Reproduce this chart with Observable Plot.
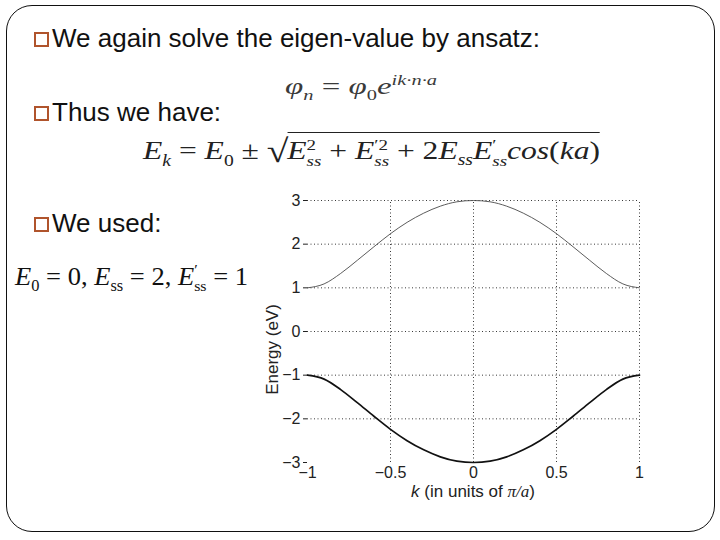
<!DOCTYPE html>
<html>
<head>
<meta charset="utf-8">
<script src="https://cdn.jsdelivr.net/npm/d3@7"></script>
<script src="https://cdn.jsdelivr.net/npm/@observablehq/plot@0.6"></script>
<style>
  html, body { margin: 0; padding: 0; background: #fff; }
  #slide { position: relative; width: 720px; height: 540px; overflow: hidden; font-family: "Liberation Sans", Arial, sans-serif; }
  #frame { position: absolute; left: 6px; top: 5px; width: 709px; height: 527px; border: 1.3px solid #111; border-radius: 26px; box-sizing: border-box; }
  .sq { position: absolute; width: 15px; height: 15px; border: 2px solid #b0542c; box-sizing: border-box; }
  .bullet { position: absolute; font-size: 26px; color: #111; white-space: nowrap; line-height: 1; }
  .math { position: absolute; font-family: "Liberation Serif", "DejaVu Serif", serif; font-style: italic; color: #222; white-space: nowrap; line-height: 1; transform-origin: left top; }
  .math .up { font-style: normal; }
  .math sub, .math sup { font-size: 62%; line-height: 0; }
  .stk { display: inline-block; vertical-align: -0.42em; font-size: 0.6em; line-height: 1.05; text-align: left; }
  .stk > span { display: block; }
  .rad { border-top: 1.3px solid #222; padding-top: 3px; }
  .root { font-style: normal; font-size: 1.25em; vertical-align: -0.08em; margin-right: -1px; }
  #chart { position: absolute; left: 255px; top: 185px; }
  #xlabel { position: absolute; left: 473px; top: 483px; transform: translateX(-50%); font-size: 17px; color: #222; white-space: nowrap; line-height: 1; font-family: "Liberation Sans", Arial, sans-serif; }
</style>
</head>
<body>
<div id="slide">
  <div id="frame"></div>
  <div class="sq" style="left:34px; top:32px;"></div>
  <div class="bullet" style="left:52px; top:25px;">We again solve the eigen-value by ansatz:</div>
  <div id="f1" class="math" style="left:285px; top:74px; font-size:24px; color:#3a3a3a;">&phi;<sub>n</sub> <span class="up">=</span> &phi;<sub class="up">0</sub>e<sup>ik&middot;n&middot;a</sup></div>
  <div class="sq" style="left:34px; top:106px;"></div>
  <div class="bullet" style="left:52px; top:99px;">Thus we have:</div>
  <div id="f2" class="math" style="left:143px; top:135px; font-size:26px;">E<sub>k</sub> <span class="up">=</span> E<sub class="up">0</sub> <span class="up">&plusmn;</span> <span class="root">&radic;</span><span class="rad">E<span class="stk"><span class="up">2</span><span>ss</span></span> <span class="up">+</span> E<span class="stk"><span class="up">&prime;2</span><span>ss</span></span> <span class="up">+ 2</span>E<sub>ss</sub>E<span class="stk"><span class="up">&prime;</span><span>ss</span></span>cos<span class="up">(</span>ka<span class="up">)</span></span></div>
  <div class="sq" style="left:34px; top:217px;"></div>
  <div class="bullet" style="left:52px; top:210px;">We used:</div>
  <div id="f3" class="math" style="left:15px; top:262px; font-size:26px; color:#111;">E<sub class="up">0</sub> <span class="up">= 0,</span> E<sub class="up">ss</sub> <span class="up">= 2,</span> E<span class="stk up"><span>&prime;</span><span>ss</span></span> <span class="up">= 1</span></div>
  <div id="chart"></div>
  <div id="xlabel"><i>k</i> (in units of <i style="font-family:'Liberation Serif',serif;">&pi;/a</i>)</div>
</div>
<script>
// k in units of pi/a
const kValues = [-1, -0.9, -0.8, -0.7, -0.6, -0.5, -0.4, -0.3, -0.2, -0.1, 0, 0.1, 0.2, 0.3, 0.4, 0.5, 0.6, 0.7, 0.8, 0.9, 1];
// upper band energy (eV)
const upperBand = [1.0, 1.09, 1.33, 1.63, 1.94, 2.24, 2.50, 2.71, 2.87, 2.97, 3.0, 2.97, 2.87, 2.71, 2.50, 2.24, 1.94, 1.63, 1.33, 1.09, 1.0];
// lower band energy (eV)
const lowerBand = [-1.0, -1.09, -1.33, -1.63, -1.94, -2.24, -2.50, -2.71, -2.87, -2.97, -3.0, -2.97, -2.87, -2.71, -2.50, -2.24, -1.94, -1.63, -1.33, -1.09, -1.0];
const xTicks = [-1, -0.5, 0, 0.5, 1];
const yTicks = [-3, -2, -1, 0, 1, 2, 3];
const xGrid = [-0.5, 0, 0.5, 1];
const yGrid = [-2, -1, 0, 1, 2, 3];
const yLabel = ["Energy (eV)"];

const upper = kValues.map((k, i) => ({k, E: upperBand[i]}));
const lower = kValues.map((k, i) => ({k, E: lowerBand[i]}));
const fmt = d => (d < 0 ? "\u2212" + Math.abs(d) : String(d));

const chart = Plot.plot({
  width: 400,
  height: 320,
  marginLeft: 52,
  marginRight: 16,
  marginTop: 15,
  marginBottom: 43,
  style: {fontFamily: "'Liberation Sans', Arial, sans-serif", fontSize: "16px", color: "#222", background: "transparent", overflow: "visible"},
  x: {domain: [-1, 1]},
  y: {domain: [-3, 3]},
  marks: [
    Plot.ruleY(yGrid, {x1: -1, x2: 1, stroke: "#222", strokeWidth: 0.9, strokeDasharray: "1,2.5"}),
    Plot.ruleX(xGrid, {y1: -3, y2: 3, stroke: "#222", strokeWidth: 0.9, strokeDasharray: "1,2.5"}),
    Plot.line(upper, {x: "k", y: "E", stroke: "#4a4a4a", strokeWidth: 0.9, curve: "monotone-x"}),
    Plot.line(lower, {x: "k", y: "E", stroke: "#111", strokeWidth: 1.7, curve: "monotone-x"}),
    Plot.axisY({ticks: yTicks, tickSize: 4, tickPadding: 3, tickFormat: fmt, label: null, fontSize: 16}),
    Plot.axisX({ticks: xTicks, tickSize: 0, tickPadding: 4, tickFormat: fmt, label: null, fontSize: 16}),
    Plot.text(yLabel, {text: d => d, frameAnchor: "left", textAnchor: "middle", lineAnchor: "middle", dx: -35, dy: 18, rotate: -90, fontSize: 17, fill: "#222"})
  ]
});
document.getElementById("chart").appendChild(chart);

// stretch the typeset formulas horizontally to the reference widths
function fit(id, width) {
  const el = document.getElementById(id);
  const w = el.getBoundingClientRect().width;
  el.style.transform = `scaleX(${width / w})`;
}
fit("f1", 152);
fit("f2", 457);
fit("f3", 233);
</script>
</body>
</html>
